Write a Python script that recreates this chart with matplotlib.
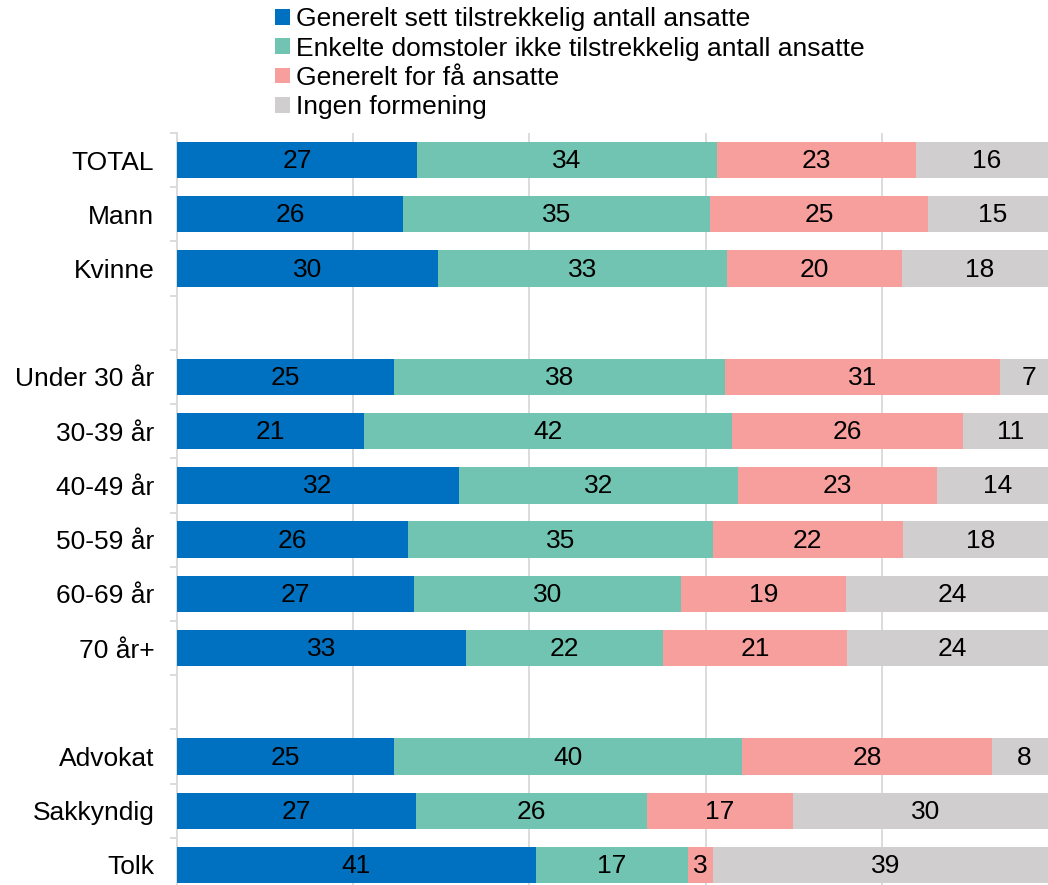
import matplotlib
matplotlib.use("Agg")
import matplotlib.pyplot as plt
from matplotlib.patches import Patch
import numpy as np

plt.rcParams['font.family'] = ['Liberation Sans', 'DejaVu Sans']

categories = ["TOTAL", "Mann", "Kvinne", "",
              "Under 30 år", "30-39 år", "40-49 år", "50-59 år", "60-69 år", "70 år+", "",
              "Advokat", "Sakkyndig", "Tolk"]
series_names = ["Generelt sett tilstrekkelig antall ansatte",
                "Enkelte domstoler ikke tilstrekkelig antall ansatte",
                "Generelt for få ansatte",
                "Ingen formening"]
# values (percent); labels show rounded values
generelt_tilstr = [27.2, 25.6, 29.6, None, 24.6, 21.2, 32.0, 26.2, 26.9, 32.8, None, 24.6, 27.1, 40.7]
enkelte = [34.1, 34.9, 32.8, None, 37.65, 41.85, 31.7, 34.6, 30.3, 22.4, None, 39.6, 26.2, 17.3]
for_faa = [22.6, 24.8, 19.9, None, 31.15, 26.2, 22.6, 21.6, 18.8, 20.9, None, 28.3, 16.6, 2.85]
ingen = [16.1, 14.7, 17.7, None, 6.6, 10.75, 13.7, 17.6, 24.0, 23.9, None, 7.5, 30.1, 39.15]
colors = ["#0070C0", "#70C4B1", "#F69F9C", "#D0CECF"]

W, H = 1048, 885
fig = plt.figure(figsize=(W/100, H/100), dpi=100)
left = 177.2 / W
right = 1057.7 / W
top = 1 - 133 / H
bottom = 1 - 892 / H
ax = fig.add_axes([left, bottom, right - left, top - bottom])

series = [generelt_tilstr, enkelte, for_faa, ingen]
ypos = np.arange(len(categories))
cum = np.zeros(len(categories))
for vals, col in zip(series, colors):
    for i, v in enumerate(vals):
        if v is None:
            continue
        ax.barh(i, v, left=cum[i], height=0.67, color=col, edgecolor='none', zorder=3)
        ax.text(cum[i] + v / 2, i + 0.02, str(int(v + 0.5)), ha='center', va='center',
                fontsize=19, color='black', zorder=4)
        cum[i] += v

ax.set_xlim(0, 100)
ax.set_ylim(len(categories) - 0.5, -0.5)
for x in [20, 40, 60, 80]:
    ax.axvline(x, color='#D9D9D9', lw=1.3, zorder=1)
ax.set_xticks([])
ax.set_yticks(ypos)
ax.set_yticklabels(categories, fontsize=19)
ax.tick_params(axis='y', which='major', length=0, pad=16.5)
ax.set_yticks(np.arange(-0.5, len(categories), 1), minor=True)
ax.tick_params(axis='y', which='minor', length=5, color='#D9D9D9', width=1.3)
for s in ['top', 'right', 'bottom']:
    ax.spines[s].set_visible(False)
ax.spines['left'].set_color('#D9D9D9')
ax.spines['left'].set_linewidth(1.3)

handles = [Patch(facecolor=c, edgecolor='none') for c in colors]
fig.legend(handles, series_names, loc='upper left', bbox_to_anchor=(270 / W, 1 - 2 / H),
           frameon=False, fontsize=19, handlelength=0.55, handleheight=0.55,
           handletextpad=0.25, labelspacing=0.2, borderaxespad=0, borderpad=0.2)

fig.savefig("out.png", dpi=100)
